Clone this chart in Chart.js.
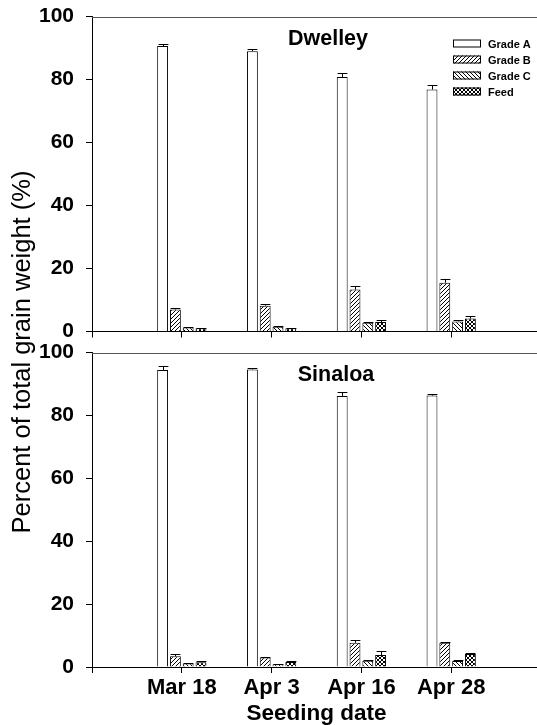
<!DOCTYPE html>
<html>
<head>
<meta charset="utf-8">
<script src="https://cdn.jsdelivr.net/npm/chart.js@4.4.1/dist/chart.umd.min.js"></script>
<style>
  body { margin: 0; background: #fff; }
  #wrap { position: relative; width: 537px; height: 725px; overflow: hidden; font-family: Arial, "Liberation Sans", sans-serif; }
  #topChart { position: absolute; left: 0; top: -6px; }
  #botChart { position: absolute; left: 0; top: 330px; }
  #ylab {
    position: absolute; left: -179px; top: 338px; width: 400px; height: 28px;
    line-height: 28px; text-align: center; font-size: 25.5px; color: #000;
    transform: rotate(-90deg); white-space: nowrap;
  }
</style>
</head>
<body>
<div id="wrap">
  <canvas id="topChart" width="543" height="360"></canvas>
  <canvas id="botChart" width="543" height="395"></canvas>
  <div id="ylab">Percent of total grain weight (%)</div>
</div>
<script>
// seeding dates (x categories)
const dates = ['Mar 18', 'Apr 3', 'Apr 16', 'Apr 28'];
const grades = ['Grade A', 'Grade B', 'Grade C', 'Feed'];
const yTicks = [0, 20, 40, 60, 80, 100];

// Dwelley, % of total grain weight and SE
const dwelleyA = [90.6, 89.0, 80.8, 76.8];
const dwelleyB = [7.0, 8.2, 13.3, 15.5];
const dwelleyC = [1.3, 1.5, 2.8, 3.2];
const dwelleyFeed = [1.0, 1.0, 3.0, 4.1];
const dwelleyAErr = [0.8, 0.7, 1.4, 1.5];
const dwelleyBErr = [0.5, 0.6, 1.0, 1.3];
const dwelleyCErr = [0.2, 0.2, 0.3, 0.3];
const dwelleyFeedErr = [0.2, 0.2, 0.6, 0.9];

// Sinaloa
const sinaloaA = [94.4, 94.6, 86.2, 86.3];
const sinaloaB = [3.4, 3.0, 7.7, 7.7];
const sinaloaC = [1.1, 0.9, 2.0, 1.9];
const sinaloaFeed = [1.5, 1.6, 3.8, 4.1];
const sinaloaAErr = [1.2, 0.4, 1.3, 0.6];
const sinaloaBErr = [0.6, 0.2, 0.9, 0.3];
const sinaloaCErr = [0.2, 0.2, 0.2, 0.2];
const sinaloaFeedErr = [0.3, 0.3, 1.2, 0.5];

// empty slot at each end so the groups sit where the original axis put them
const axisLabels = [''].concat(dates, ['']);
const pad = arr => [null].concat(arr, [null]);

const FONT = 'Arial, "Liberation Sans", sans-serif';

function makePattern(kind) {
  const s = 4;
  const c = document.createElement('canvas');
  c.width = s; c.height = s;
  const g = c.getContext('2d');
  g.fillStyle = '#fff';
  g.fillRect(0, 0, s, s);
  g.strokeStyle = '#000';
  g.lineWidth = 1;
  const fwd = () => {
    g.beginPath();
    g.moveTo(-1, s + 1); g.lineTo(s + 1, -1);
    g.moveTo(-1, 1); g.lineTo(1, -1);
    g.moveTo(s - 1, s + 1); g.lineTo(s + 1, s - 1);
    g.stroke();
  };
  const back = () => {
    g.beginPath();
    g.moveTo(-1, -1); g.lineTo(s + 1, s + 1);
    g.moveTo(s - 1, -1); g.lineTo(s + 1, 1);
    g.moveTo(-1, s - 1); g.lineTo(1, s + 1);
    g.stroke();
  };
  if (kind === 'fwd') fwd();
  if (kind === 'back') back();
  if (kind === 'cross') { fwd(); back(); }
  return g.createPattern(c, 'repeat');
}

const fills = ['#ffffff', makePattern('fwd'), makePattern('back'), makePattern('cross')];

function buildDatasets(values, errs) {
  return values.map((v, i) => ({
    label: grades[i],
    data: pad(v),
    errors: pad(errs[i]),
    backgroundColor: fills[i],
    borderColor: '#000',
    borderWidth: 1,
    categoryPercentage: 0.57,
    barPercentage: 0.85
  }));
}

// error bars: stem from bar top to value + SE, with a cap
const errorBars = {
  id: 'errorBars',
  afterDatasetsDraw(chart) {
    const ctx = chart.ctx;
    const y = chart.scales.y;
    ctx.save();
    ctx.strokeStyle = '#000';
    ctx.lineWidth = 1;
    chart.data.datasets.forEach((ds, di) => {
      const meta = chart.getDatasetMeta(di);
      meta.data.forEach((bar, i) => {
        const v = ds.data[i], e = ds.errors[i];
        if (v == null || e == null) return;
        const x = Math.round(bar.x) + 0.5;
        const yTop = Math.round(y.getPixelForValue(v + e)) + 0.5;
        const half = bar.width * 0.45;
        ctx.beginPath();
        ctx.moveTo(x, bar.y);
        ctx.lineTo(x, yTop);
        ctx.moveTo(x - half, yTop);
        ctx.lineTo(x + half, yTop);
        ctx.stroke();
      });
    });
    ctx.restore();
  }
};

// frame top line, panel name and (top panel only) legend
const panelDecor = {
  id: 'panelDecor',
  afterDraw(chart, args, opts) {
    const ctx = chart.ctx;
    const a = chart.chartArea;
    ctx.save();
    ctx.strokeStyle = '#555';
    ctx.lineWidth = 1;
    ctx.beginPath();
    ctx.moveTo(a.left, Math.round(a.top) + 0.5);
    ctx.lineTo(a.right, Math.round(a.top) + 0.5);
    ctx.stroke();

    ctx.fillStyle = '#000';
    ctx.font = 'bold 21.5px ' + FONT;
    ctx.textAlign = 'center';
    ctx.textBaseline = 'middle';
    ctx.fillText(opts.name, opts.nameX, a.top + 23);

    if (opts.legend) {
      ctx.font = 'bold 11px ' + FONT;
      ctx.textAlign = 'left';
      chart.data.datasets.forEach((ds, i) => {
        const cy = a.top + 27 + i * 16;
        ctx.fillStyle = ds.backgroundColor;
        ctx.fillRect(453, cy - 4, 28, 8);
        ctx.strokeStyle = '#000';
        ctx.strokeRect(453.5, cy - 3.5, 27, 7);
        ctx.fillStyle = '#000';
        ctx.fillText(ds.label, 488, cy + 1);
      });
    }
    ctx.restore();
  }
};

function makeOptions(showLabels, padTop, xHeight, decor) {
  return {
    responsive: false,
    animation: false,
    layout: { padding: { top: padTop, right: 0, left: 0, bottom: 0 } },
    plugins: {
      legend: { display: false },
      tooltip: { enabled: false },
      panelDecor: decor
    },
    scales: {
      x: {
        type: 'category',
        offset: false,
        grid: { drawOnChartArea: false, drawTicks: true, tickLength: 6, color: '#000', offset: false },
        border: { display: true, color: '#000', width: 1 },
        ticks: {
          autoSkip: false, maxRotation: 0, minRotation: 0, padding: 2, color: '#000',
          font: { family: FONT, size: 22, weight: 'bold' },
          callback: function (val, idx) { return showLabels ? axisLabels[idx] : ''; }
        },
        title: {
          display: showLabels, text: 'Seeding date', color: '#000', padding: 0,
          font: { family: FONT, size: 22.5, weight: 'bold', lineHeight: 1 }
        },
        afterFit: s => { s.height = xHeight; }
      },
      y: {
        min: 0, max: 100,
        afterBuildTicks: s => { s.ticks = yTicks.map(v => ({ value: v })); },
        grid: { drawOnChartArea: false, drawTicks: true, tickLength: 6, color: '#000' },
        border: { display: true, color: '#000', width: 1 },
        ticks: {
          padding: 12, color: '#000',
          font: { family: FONT, size: 21, weight: 'bold', lineHeight: 1 }
        },
        afterFit: s => { s.width = 92; }
      }
    }
  };
}

new Chart(document.getElementById('topChart'), {
  type: 'bar',
  data: {
    labels: axisLabels,
    datasets: buildDatasets([dwelleyA, dwelleyB, dwelleyC, dwelleyFeed],
                            [dwelleyAErr, dwelleyBErr, dwelleyCErr, dwelleyFeedErr])
  },
  options: makeOptions(false, 22, 22, { name: 'Dwelley', nameX: 328, legend: true }),
  plugins: [errorBars, panelDecor]
});

new Chart(document.getElementById('botChart'), {
  type: 'bar',
  data: {
    labels: axisLabels,
    datasets: buildDatasets([sinaloaA, sinaloaB, sinaloaC, sinaloaFeed],
                            [sinaloaAErr, sinaloaBErr, sinaloaCErr, sinaloaFeedErr])
  },
  options: makeOptions(true, 22, 58, { name: 'Sinaloa', nameX: 336, legend: false }),
  plugins: [errorBars, panelDecor]
});
</script>
</body>
</html>
